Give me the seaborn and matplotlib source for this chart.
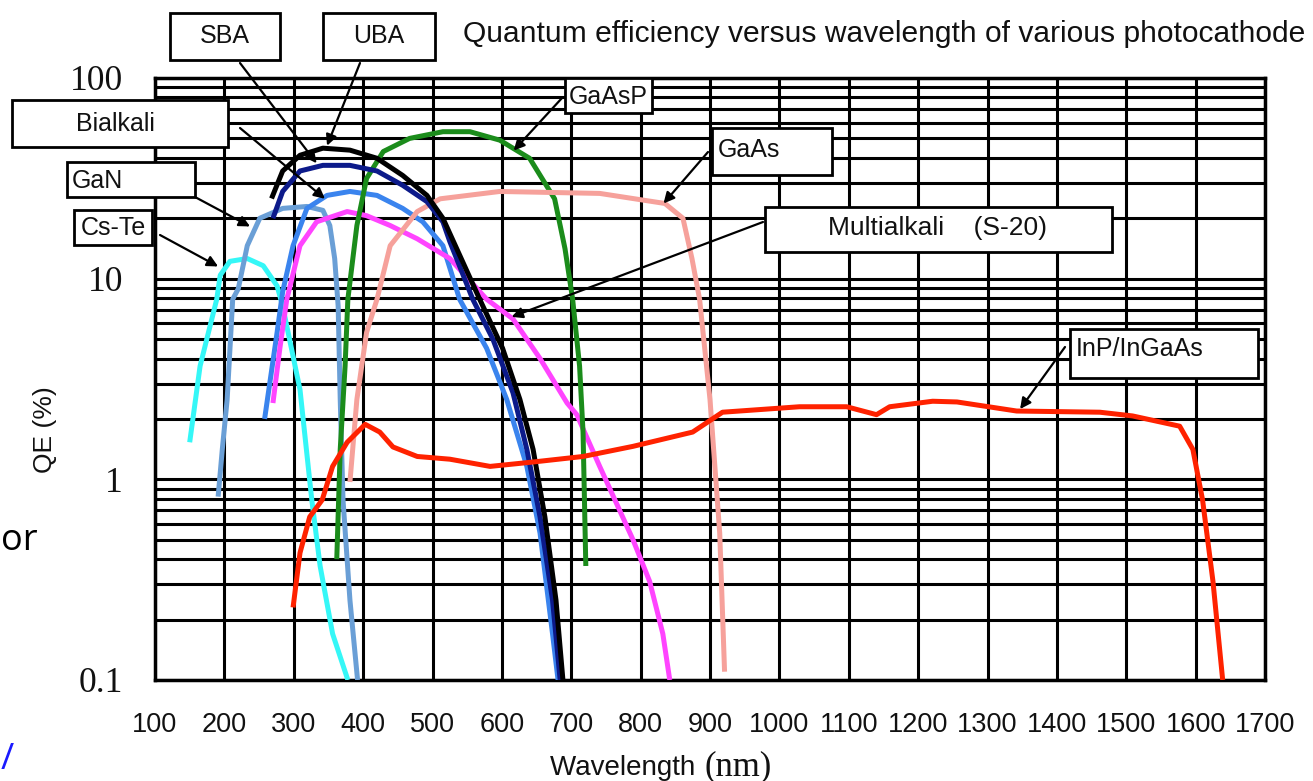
import matplotlib
matplotlib.use("Agg")
import matplotlib.pyplot as plt
import seaborn as sns
from matplotlib.patches import Rectangle
from matplotlib.ticker import FixedLocator, LogLocator, NullFormatter, FixedFormatter

# ---------------- data (wavelength nm, QE %) ----------------
cste_x = [150, 165, 189, 194, 208, 233, 256, 276, 284, 309, 326, 338, 356, 378]
cste_y = [1.53, 3.67, 7.9, 10.4, 12.2, 12.6, 11.6, 9.2, 7.3, 2.8, 0.79, 0.37, 0.17, 0.1]

gan_x = [191, 197, 204, 212, 220, 233, 251, 284, 319, 342, 352, 359, 364, 367, 371, 381, 392]
gan_y = [0.82, 1.41, 2.5, 7.9, 8.9, 14.6, 20, 22.4, 22.9, 21.9, 18.4, 12.6, 7.3, 2.5, 0.79, 0.25, 0.1]

bialkali_x = [258, 276, 284, 299, 319, 348, 381, 420, 457, 486, 515, 539, 578, 607, 636, 655, 673, 681]
bialkali_y = [2.0, 5.4, 8.6, 14.6, 22.4, 26, 27.2, 26, 22.4, 19.2, 14.6, 7.9, 4.5, 2.5, 1.16, 0.54, 0.17, 0.1]

multi_x = [270, 280, 290, 309, 333, 377, 405, 439, 478, 525, 578, 616, 655, 694, 708, 741, 789, 813, 832, 842]
multi_y = [2.4, 4.5, 7.9, 14.6, 19.2, 21.6, 20.6, 18.4, 15.8, 12.6, 7.9, 6.3, 4.0, 2.4, 2.1, 1.16, 0.5, 0.31, 0.17, 0.1]

sba_x = [270, 284, 309, 342, 381, 420, 457, 492, 515, 525, 558, 587, 616, 636, 655, 673, 684]
sba_y = [20, 27.2, 34.4, 36.7, 36.7, 34.4, 29.2, 24.2, 19.2, 15.3, 7.9, 5.0, 2.7, 1.41, 0.65, 0.25, 0.1]

uba_x = [268, 284, 309, 342, 381, 420, 457, 492, 515, 568, 601, 626, 645, 662, 678, 688]
uba_y = [25.1, 34.4, 41.2, 44.7, 43.7, 39.8, 32.7, 26, 20, 7.9, 4.5, 2.5, 1.41, 0.65, 0.25, 0.1]

gaasp_x = [362, 367, 374, 378, 391, 405, 429, 467, 515, 554, 597, 640, 676, 691, 702, 712, 717, 721]
gaasp_y = [0.40, 1.41, 3.67, 7.9, 18.4, 31.6, 43, 50, 54, 54, 49, 39.8, 25, 14.1, 7.9, 3.67, 1.72, 0.37]

gaas_x = [381, 391, 405, 420, 439, 478, 511, 597, 741, 835, 861, 874, 885, 900, 914, 921]
gaas_y = [0.97, 2.5, 5.4, 7.9, 14.6, 21.6, 25, 27.2, 26.6, 23.7, 20, 12.6, 7.9, 2.5, 0.54, 0.11]

inp_x = [299, 309, 323, 341, 356, 377, 403, 424, 443, 478, 525, 583, 645, 717, 789, 875, 918,
         1029, 1097, 1140, 1159, 1221, 1256, 1342, 1462, 1509, 1577, 1596, 1610, 1625, 1639]
inp_y = [0.23, 0.43, 0.65, 0.79, 1.16, 1.53, 1.88, 1.72, 1.45, 1.30, 1.26, 1.16, 1.22, 1.30, 1.46, 1.72, 2.16,
         2.3, 2.3, 2.1, 2.3, 2.45, 2.43, 2.19, 2.16, 2.07, 1.84, 1.41, 0.79, 0.31, 0.1]

x_ticks = list(range(100, 1800, 100))
y_ticks = [0.1, 1, 10, 100]
y_tick_labels = ["0.1", "1", "10", "100"]

curves = [
    ("Cs-Te", cste_x, cste_y, "#35f7f7"),
    ("GaN", gan_x, gan_y, "#6a9fd6"),
    ("Bialkali", bialkali_x, bialkali_y, "#3a84ee"),
    ("Multialkali", multi_x, multi_y, "#ff44ff"),
    ("GaAsP", gaasp_x, gaasp_y, "#1b8c1b"),
    ("GaAs", gaas_x, gaas_y, "#f6a19b"),
    ("SBA", sba_x, sba_y, "#0c1a8a"),
    ("UBA", uba_x, uba_y, "#000000"),
    ("InP/InGaAs", inp_x, inp_y, "#ff2200"),
]

# ---------------- figure ----------------
W, H = 1313, 781
sns.set_theme(style="white")
plt.rcParams["font.family"] = ["Liberation Sans", "DejaVu Sans"]

fig = plt.figure(figsize=(W / 100, H / 100), dpi=100)
ax = fig.add_axes([155 / W, 1 - 680 / H, 1110 / W, 602 / H])


def fxy(px, py):
    return (px / W, 1 - py / H)


for name, xs, ys, col in curves:
    sns.lineplot(x=xs, y=ys, ax=ax, color=col, lw=3.6, sort=False, estimator=None,
                 solid_capstyle="butt", zorder=3)

ax.set_yscale("log")
ax.set_xlim(100, 1700)
ax.set_ylim(0.1, 100)
ax.xaxis.set_major_locator(FixedLocator(x_ticks))
ax.yaxis.set_major_locator(FixedLocator(y_ticks))
ax.yaxis.set_major_formatter(FixedFormatter(y_tick_labels))
ax.yaxis.set_minor_locator(LogLocator(base=10, subs=range(2, 10)))
ax.yaxis.set_minor_formatter(NullFormatter())
ax.grid(which="both", color="black", lw=2.2)
ax.set_axisbelow(True)
ax.tick_params(which="both", length=0)
ax.tick_params(axis="x", labelsize=19.5, pad=23, labelcolor="#111111")
ax.tick_params(axis="y", labelsize=25.5, pad=23, labelcolor="#111111")
for lab in ax.get_yticklabels():
    lab.set_fontfamily("Liberation Serif")
for sp in ax.spines.values():
    sp.set_color("black")
    sp.set_linewidth(2.5)
ax.set_xlabel("")
ax.set_ylabel("")

# axis titles
fig.text(*fxy(45, 430), "QE (%)", rotation=90, ha="center", va="center", fontsize=19, color="#111111")
fig.text(*fxy(703, 768), "Wavelength ", ha="right", va="center", fontsize=20, color="#111111")
fig.text(*fxy(704, 767), "(nm)", ha="left", va="center", fontsize=25, family="Liberation Serif",
         color="#111111")

# title
fig.text(*fxy(463, 34), "Quantum efficiency versus wavelength of various photocathode",
         ha="left", va="center", fontsize=21.6, color="#111111")

# slide remnants
fig.text(*fxy(1, 541), "or", ha="left", va="center", fontsize=26, family="Open Sans", color="black")
fig.text(*fxy(7, 760), "/", ha="center", va="center", fontsize=26, family="Open Sans", color="#1a1aff")

# annotation boxes: (label, box x0,y0,x1,y1, text x,y, ha, arrow start px, arrow tip data, size)
boxes = [
    ("SBA", (170, 13, 280, 60), (225, 36), "center", (240, 63), (333, 37.6), 18),
    ("UBA", (323, 13, 435, 60), (379, 36), "center", (360, 63), (348, 46), 18),
    ("Bialkali", (12, 100, 228, 147), (115, 124), "center", (240, 128), (345, 25), 18),
    ("GaN", (67, 162, 195, 197), (72, 181), "left", (195, 197), (237, 18.2), 18),
    ("Cs-Te", (74, 210, 152, 245), (113, 228), "center", (160, 235), (191, 11.5), 18),
    ("GaAsP", (565, 78, 652, 113), (569, 97), "left", (562, 98), (617, 43.5), 18),
    ("GaAs", (712, 128, 832, 175), (718, 150), "left", (708, 152), (833, 23.7), 18),
    ("Multialkali    (S-20)", (765, 207, 1112, 252), (938, 228), "center", (763, 222), (614, 6.45), 19),
    ("InP/InGaAs", (1070, 329, 1258, 378), (1076, 349), "left", (1065, 347), (1347, 2.24), 18),
]

for label, (x0, y0, x1, y1), (tx, ty), ha, (sx, sy), (nm, qe), fs in boxes:
    ax.annotate("", xy=(nm, qe), xycoords="data", xytext=fxy(sx, sy), textcoords="figure fraction",
                arrowprops=dict(arrowstyle="-|>", color="black", lw=1.6, mutation_scale=16,
                                shrinkA=0, shrinkB=0),
                annotation_clip=False, zorder=6)
    rect = Rectangle(fxy(x0, y1), (x1 - x0) / W, (y1 - y0) / H, transform=fig.transFigure,
                     facecolor="white", edgecolor="black", lw=2.0, zorder=7)
    fig.add_artist(rect)
    fig.text(tx / W, 1 - ty / H, label, ha=ha, va="center", fontsize=fs, color="#111111", zorder=8)

fig.savefig("out.png", dpi=100, facecolor="white")
